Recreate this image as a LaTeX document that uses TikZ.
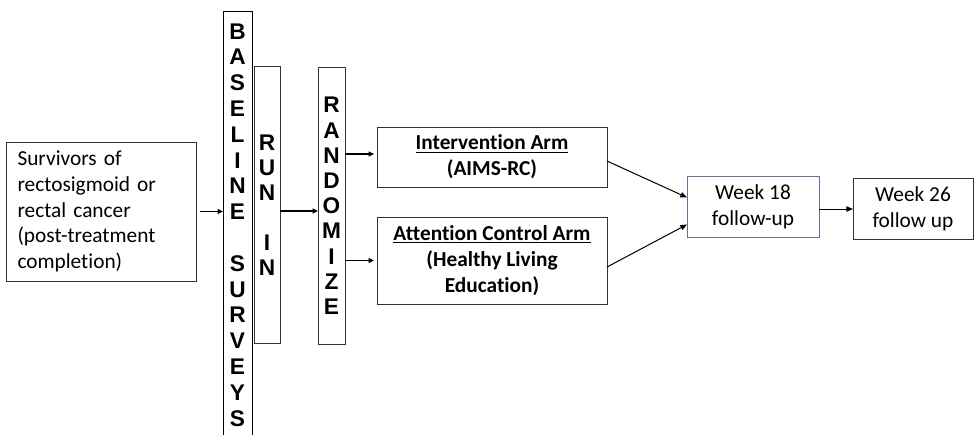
\documentclass[tikz,border=0pt]{standalone}
\usepackage{fontspec}
\setmainfont{Carlito}[Ligatures=NoCommon]
\newfontfamily\arialfam{Liberation Sans}
\usetikzlibrary{arrows.meta}
\definecolor{boxline}{RGB}{50,50,50}
\definecolor{blueline}{RGB}{95,115,145}
\tikzset{
  box/.style={draw=boxline, line width=0.75pt, inner sep=0pt, outer sep=0pt, rectangle},
  txt/.style={font=\fontsize{16pt}{19.4pt}\selectfont, align=center},
  vstack/.style={box, font=\arialfam\bfseries\fontsize{17pt}{19.35pt}\selectfont, align=center},
  arr/.style={-{Triangle[length=4pt,width=3.6pt]}, line width=1.1pt, black},
  thinarr/.style={-{Triangle[length=5pt,width=4pt]}, line width=0.75pt, black}
}
\begin{document}
\begin{tikzpicture}[x=0.75pt, y=-0.75pt]
\useasboundingbox (0,0) rectangle (974,435);
\begin{scope}
\clip (0,0) rectangle (974,435);
% source box
\node[box, txt, align=left, text width=126pt, minimum width=141.75pt, minimum height=104.25pt, inner xsep=8.25pt] (surv) at (101.5,211.5)
  {Survivors of\\rectosigmoid or\\rectal cancer\\(post-treatment\\completion)};
% vertical stacks
\node[vstack, draw=black, minimum width=21.75pt, minimum height=319.5pt] (base) at (237.5,225)
  {B\\A\\S\\E\\L\\I\\N\\E\\\mbox{}\\S\\U\\R\\V\\E\\Y\\S};
\node[vstack, font=\arialfam\bfseries\fontsize{17pt}{18.75pt}\selectfont, minimum width=19.5pt, minimum height=207pt] (runin) at (267,205)
  {R\\U\\N\\\mbox{}\\I\\N};
\node[vstack, font=\arialfam\bfseries\fontsize{17pt}{18.9pt}\selectfont, minimum width=20.25pt, minimum height=207pt] (rand) at (331.5,206)
  {R\\A\\N\\D\\O\\M\\I\\Z\\E};
% arms
\node[box, txt, font=\bfseries\fontsize{16pt}{19.5pt}\selectfont, minimum width=172.5pt, minimum height=45pt] (interv) at (492,157)
  {\underline{Intervention Arm}\\(AIMS-RC)};
\node[box, txt, font=\bfseries\fontsize{16pt}{19.5pt}\selectfont, minimum width=172.5pt, minimum height=65.25pt] (att) at (492,260.5)
  {\underline{Attention Control Arm}\\(Healthy Living\\Education)};
% follow-ups
\node[box, txt, draw=blueline, minimum width=99pt, minimum height=45.75pt] (w18) at (753,206.5)
  {Week 18\\follow-up};
\node[box, txt, minimum width=90pt, minimum height=45.75pt] (w26) at (913,208.5)
  {Week 26\\follow up};
% connectors
\draw[arr] ([xshift=2.25pt]surv.east) -- (surv.east -| base.west);
\draw[arr] ([yshift=-4.5pt]runin.east) -- ([yshift=-4.5pt]runin.east -| rand.west);
\draw[arr] ([yshift=2.25pt]interv.west -| rand.east) -- ([yshift=2.25pt,xshift=-2.25pt]interv.west);
\draw[arr] (att.west -| rand.east) -- ([xshift=-2.25pt]att.west);
\draw[thinarr] ([yshift=-3pt]interv.east) -- ([yshift=6.75pt]w18.west);
\draw[thinarr] ([yshift=-4.875pt]att.east) -- ([yshift=-13.5pt]w18.west);
\draw[thinarr] ([yshift=-1.875pt]w18.east) -- ([yshift=-1.875pt]w18.east -| w26.west);
\end{scope}
\end{tikzpicture}
\end{document}
